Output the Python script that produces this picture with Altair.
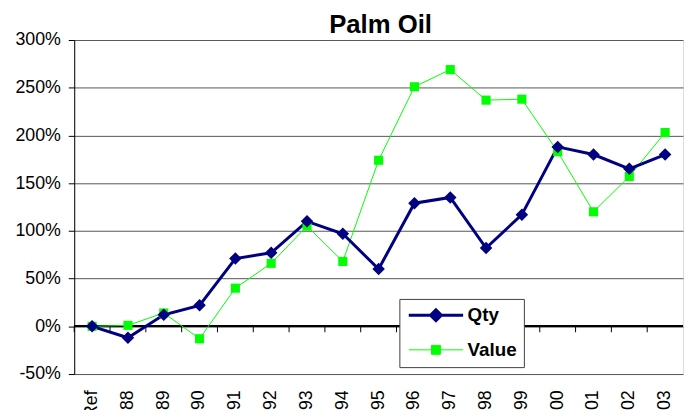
import altair as alt
import pandas as pd

categories = ["Ref", "1988", "1989", "1990", "1991", "1992", "1993", "1994", "1995",
              "1996", "1997", "1998", "1999", "2000", "2001", "2002", "2003"]
qty = [0, -12, 12, 22, 71, 77, 110, 97, 60, 129, 135, 82, 117, 188, 180, 165, 180]
value = [0, 1, 14, -13, 40, 66, 105, 68, 174, 251, 269, 237, 238, 183, 120, 157, 203]

series_names = ["Qty", "Value"]
series_colors = ["#000080", "#00FF00"]
y_ticks = [-50, 0, 50, 100, 150, 200, 250, 300]

rows = []
for i, c in enumerate(categories):
    rows.append({"cat": c, "series": "Qty", "val": qty[i], "order": i})
    rows.append({"cat": c, "series": "Value", "val": value[i], "order": i})
df = pd.DataFrame(rows)
cat_df = pd.DataFrame({"cat": categories})

FONT = "Liberation Sans"

x_scale = alt.Scale(type="band", paddingInner=0, paddingOuter=0)
x_main = alt.X("cat:N", sort=categories, scale=x_scale,
               axis=alt.Axis(title=None, labelAngle=-90, ticks=False, domain=False,
                             grid=False, labelPadding=16, labelFont=FONT,
                             labelFontSize=18, labelColor="black"))
y_main = alt.Y("val:Q", scale=alt.Scale(domain=[-50, 300], nice=False, zero=False),
               axis=alt.Axis(title=None, values=y_ticks, labelExpr="datum.value + '%'",
                             grid=True, gridColor="#555555", gridWidth=1,
                             tickSize=6, tickColor="black", domainColor="black",
                             labelPadding=8, labelFont=FONT, labelFontSize=18,
                             labelColor="black"))
sw_scale = alt.Scale(domain=series_names, range=[3, 1])

base = alt.Chart(df)
qty_base = base.transform_filter(alt.datum.series == "Qty")
val_base = base.transform_filter(alt.datum.series == "Value")

qty_line = qty_base.mark_line(color=series_colors[0], strokeWidth=3).encode(
    x=x_main, y=y_main, order="order:Q")
val_line = val_base.mark_line(color=series_colors[1], strokeWidth=1).encode(
    x=x_main, y=y_main, order="order:Q")

qty_points = qty_base.mark_point(filled=True, opacity=1, shape="diamond", size=160,
                                 color=series_colors[0]).encode(x=x_main, y=y_main)
val_points = val_base.mark_point(filled=True, opacity=1, shape="square", size=85,
                                 color=series_colors[1]).encode(x=x_main, y=y_main)

zero_line = base.mark_rule(color="black", strokeWidth=1).encode(y=alt.datum(0))

zero_ticks = alt.Chart(cat_df).mark_rule(color="black", strokeWidth=1, y2Offset=6).encode(
    x=alt.X("cat:N", sort=categories, bandPosition=0),
    y=alt.datum(0), y2=alt.datum(0),
)

# legend symbols: a line with a marker, in units of the symbol radius (7px),
# starting at the symbol's left edge and running to the right
path_qty = "M-1,0H6.86M2.93,-0.786L3.716,0L2.93,0.786L2.144,0Z"
path_val = "M-1,0H6.86M2.287,-0.643H3.573V0.643H2.287Z"

leg = alt.Legend(title=None, orient="none", legendX=329, legendY=262,
                 fillColor="white", strokeColor="#404040", padding=7,
                 symbolSize=196, labelFont=FONT, labelFontSize=19,
                 labelFontWeight="bold", labelColor="black", labelOffset=43,
                 rowPadding=13)

legend_layer = base.transform_filter("false").mark_point(filled=True, opacity=1).encode(
    x=x_main, y=y_main,
    fill=alt.Fill("series:N", scale=alt.Scale(domain=series_names, range=series_colors), legend=leg),
    stroke=alt.Stroke("series:N", scale=alt.Scale(domain=series_names, range=series_colors), legend=leg),
    shape=alt.Shape("series:N", scale=alt.Scale(domain=series_names, range=[path_qty, path_val]),
                    legend=leg),
    strokeWidth=alt.StrokeWidth("series:N", scale=sw_scale, legend=leg),
)

chart = alt.layer(zero_line, zero_ticks, val_line, qty_line, val_points, qty_points,
                  legend_layer).properties(
    width=616, height=338,
    title=alt.TitleParams("Palm Oil", fontSize=26, fontWeight="bold", font=FONT,
                          color="black", anchor="middle", frame="group",
                          baseline="alphabetic", offset=-6, dy=22, dx=2),
    autosize=alt.AutoSizeParams(type="none"),
    padding={"left": 67, "top": 30, "right": 1, "bottom": 34},
).configure_view(stroke="black", strokeWidth=1).configure(background="white")

chart.save("out.html", embed_options={"renderer": "svg", "actions": False})
